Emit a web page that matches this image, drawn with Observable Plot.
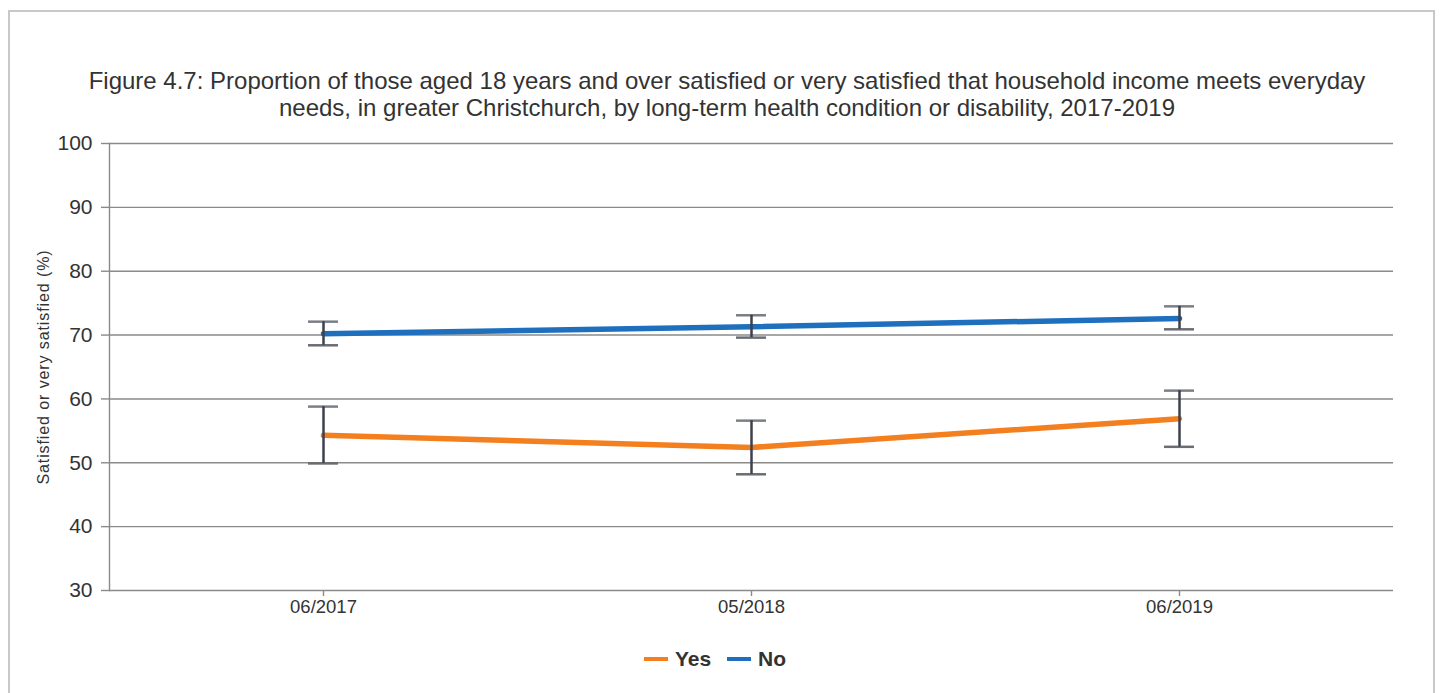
<!DOCTYPE html>
<html>
<head>
<meta charset="utf-8">
<script src="https://cdn.jsdelivr.net/npm/d3@7"></script>
<script src="https://cdn.jsdelivr.net/npm/@observablehq/plot@0.6"></script>
<style>
  html, body { margin: 0; padding: 0; background: #fff; }
  body { width: 1444px; height: 693px; position: relative; overflow: hidden; font-family: "Liberation Sans", Arial, sans-serif; color: #333; }
  #frame { position: absolute; left: 8px; top: 10px; width: 1427px; height: 720px; border: 2px solid #c8c8c8; box-sizing: border-box; }
  #title { position: absolute; left: 5px; width: 1444px; top: 67px; text-align: center; font-size: 24px; line-height: 27px; color: #333; }
  #chart { position: absolute; left: 0; top: 120px; }
  #legend { position: absolute; left: -7px; width: 1444px; top: 647px; height: 24px; display: flex; justify-content: center; align-items: center; font-weight: bold; font-size: 21px; color: #333; }
  .item { display: flex; align-items: center; margin: 0 8px; }
  .sw { width: 24px; height: 4px; margin-right: 7px; }
  #chart g[aria-label="text"] text { letter-spacing: 0.9px; }
</style>
</head>
<body>
<div id="frame"></div>
<div id="title">Figure 4.7: Proportion of those aged 18 years and over satisfied or very satisfied that household income meets everyday<br>needs, in greater Christchurch, by long-term health condition or disability, 2017-2019</div>
<div id="chart"></div>
<div id="legend"></div>
<script>
const categories = ["06/2017", "05/2018", "06/2019"];
const seriesNames = ["Yes", "No"];
const seriesColors = ["#f47f1f", "#1f6fbf"];
const yesValues = [54.3, 52.4, 56.9];
const yesLower = [49.9, 48.2, 52.5];
const yesUpper = [58.8, 56.6, 61.3];
const noValues = [70.2, 71.3, 72.6];
const noLower = [68.4, 69.6, 70.9];
const noUpper = [72.1, 73.1, 74.5];
const yTicks = [30, 40, 50, 60, 70, 80, 90, 100];
const yLabel = "Satisfied or very satisfied (%)";

const rows = [];
categories.forEach((c, i) => {
  rows.push({cat: c, series: "Yes", v: yesValues[i], lo: yesLower[i], hi: yesUpper[i]});
  rows.push({cat: c, series: "No", v: noValues[i], lo: noLower[i], hi: noUpper[i]});
});

const chart = Plot.plot({
  width: 1444,
  height: 510,
  marginLeft: 109,
  marginRight: 51,
  marginTop: 23,
  marginBottom: 40,
  style: {fontFamily: "'Liberation Sans', Arial, sans-serif", color: "#333", background: "transparent", overflow: "visible"},
  x: {type: "band", domain: categories, paddingInner: 0.93, paddingOuter: 0.465, label: null},
  y: {domain: [30, 100], label: null},
  color: {domain: seriesNames, range: seriesColors},
  marks: [
    Plot.gridY(yTicks, {stroke: "#8a8a8a", strokeOpacity: 1, strokeWidth: 1.4}),
    Plot.frame({anchor: "left", stroke: "#8a8a8a", strokeWidth: 1.4}),
    Plot.axisY(yTicks, {tickSize: 8, tickPadding: 9, fontSize: 21, stroke: "#8a8a8a", strokeWidth: 1.4, fill: "#333", label: null}),
    Plot.axisX({tickSize: 6, tickPadding: 3, fontSize: 18.5, stroke: "#8a8a8a", strokeWidth: 1.4, fill: "#333", label: null}),
    Plot.text([yLabel], {frameAnchor: "left", dx: -66, dy: 0, rotate: -90, textAnchor: "middle", fontSize: 16, fill: "#333"}),
    Plot.line(rows, {x: "cat", y: "v", z: "series", stroke: "series", strokeWidth: 5.5}),
    Plot.tickY(rows, {x: "cat", y: "hi", stroke: "#7c7f86", strokeWidth: 2.5}),
    Plot.tickY(rows, {x: "cat", y: "lo", stroke: "#6a6d74", strokeWidth: 2.5}),
    Plot.ruleX(rows, {x: "cat", y1: "lo", y2: "hi", stroke: "#3d414b", strokeWidth: 2.5})
  ]
});
document.getElementById("chart").appendChild(chart);

const legend = document.getElementById("legend");
seriesNames.forEach((s, i) => {
  const it = document.createElement("div");
  it.className = "item";
  const sw = document.createElement("div");
  sw.className = "sw";
  sw.style.background = seriesColors[i];
  const t = document.createElement("span");
  t.textContent = s;
  it.appendChild(sw);
  it.appendChild(t);
  legend.appendChild(it);
});
</script>
</body>
</html>
